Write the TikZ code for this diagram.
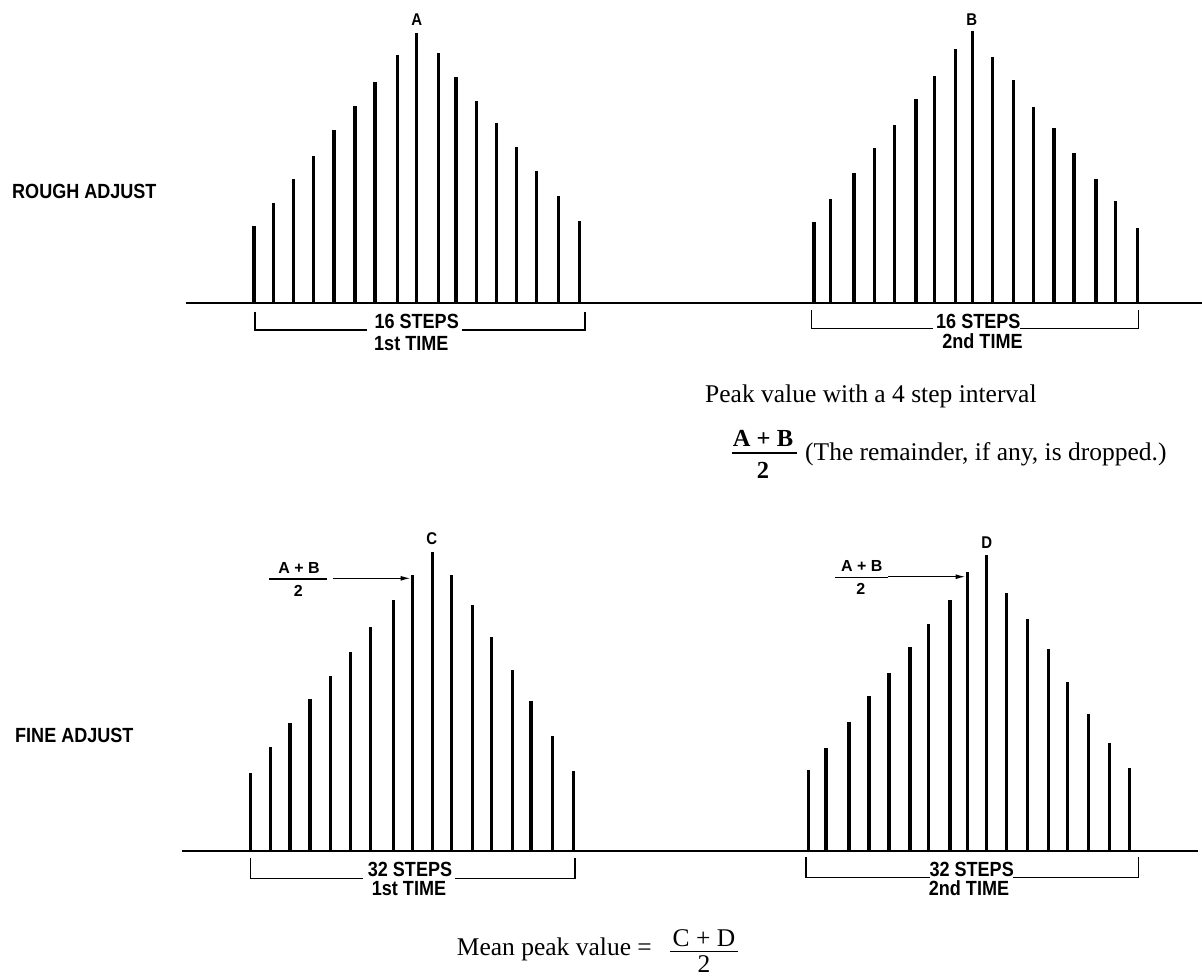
\documentclass[tikz,border=0pt]{standalone}
\usepackage{fontspec}
\setmainfont{Liberation Serif}
\setsansfont{Liberation Sans}
\newfontfamily\letterfont[FakeStretch=0.88]{Liberation Sans}
\usetikzlibrary{arrows.meta}
\begin{document}
\begin{tikzpicture}[x=1pt,y=-1pt,
  bar/.style={line width=3.3pt},
  axisline/.style={line width=2pt},
  brk/.style={line width=1.5pt},
  lbl/.style={font=\letterfont\bfseries\fontsize{20.5}{20.5}\selectfont, inner sep=0pt, anchor=base},
  side/.style={font=\letterfont\bfseries\fontsize{20.5}{20.5}\selectfont, inner sep=0pt, anchor=base west},
  peak/.style={font=\letterfont\bfseries\fontsize{17}{17}\selectfont, inner sep=0pt},
  fr/.style={font=\sffamily\bfseries\fontsize{16}{16}\selectfont, inner sep=0pt, anchor=base},
  serif/.style={font=\rmfamily\fontsize{25.5}{25.5}\selectfont, inner sep=0pt},
  ptr/.style={line width=1.3pt, -{Latex[length=10pt,width=5pt]}}
]
\useasboundingbox (0,0) rectangle (1202,977);

% ---------- side labels
\node[side] (rough) at (12,198) {ROUGH ADJUST};
\node[side] (fine) at (15,742) {FINE ADJUST};

% ---------- baselines
\coordinate (t0) at (186,303);
\coordinate (t1) at (1202,303);
\coordinate (u0) at (182,851);
\coordinate (u1) at (1198,851);
\draw[axisline] (t0) -- (t1);
\draw[axisline] (u0) -- (u1);

% ---------- rough adjust, 1st time
\foreach \x/\t in {254/226, 273.3/203.3, 293.3/179.3, 313.3/155.7, 334/130, 355/106,
  375/81.7, 397.3/55, 416.7/32.7, 438.3/52.7, 456/76.7, 476.7/100.7, 496.7/123.3,
  516.7/146.7, 536.7/171, 558.3/195.7, 579.3/220.7}
  \draw[bar] (\x,303) -- (\x,\t);
\node[peak] (A) at (416.7,20) {A};
\node[lbl] (s1) at (416.7,328) {16 STEPS};
\node[lbl] (n1) at (411.3,350) {1st TIME};
\draw[brk] (255,311.7) -- (255,330) -- (366.7,330);
\draw[brk] (461.7,330) -- (585,330) -- (585,311.7);

% ---------- rough adjust, 2nd time
\foreach \x/\t in {814/221.7, 830.7/199, 854/172.7, 874.7/147.7, 894.3/125, 916/99,
  934.3/76, 955.3/49.3, 972.3/31, 992.7/57.3, 1013.3/80, 1033.3/107.3, 1054/128.3,
  1074/153.3, 1096/179, 1115.3/201, 1137.3/227.7}
  \draw[bar] (\x,303) -- (\x,\t);
\node[peak] (B) at (971.7,20) {B};
\node[lbl] (s2) at (978.3,328.3) {16 STEPS};
\node[lbl] (n2) at (982.5,348) {2nd TIME};
\draw[brk] (811.7,310) -- (811.7,328.3) -- (933.3,328.3);
\draw[brk] (1020,328.3) -- (1138.3,328.3) -- (1138.3,310);

% ---------- middle text
\node[serif, anchor=base west] (pv) at (705,402) {Peak value with a 4 step interval};
\node[serif, anchor=base, font=\rmfamily\bfseries\fontsize{24.5}{24.5}\selectfont] (abn) at (763,446.7) {A + B};
\node[serif, anchor=base, font=\rmfamily\bfseries\fontsize{24.5}{24.5}\selectfont] (abd) at (763,478) {2};
\draw[line width=1.1pt] (731.7,453) -- (796.7,453);
\node[serif, anchor=base west] (rem) at (805,460) {(The remainder, if any, is dropped.)};

% ---------- fine adjust, 1st time
\foreach \x/\t in {250.7/773.3, 270.7/747.3, 290/723.3, 310/699.3, 330.7/676, 350.7/651.7,
  370.7/626.7, 393.3/600, 412.3/575, 432.7/551.7, 451.7/575, 472.7/605, 491.7/636.7,
  512.7/670, 531/701, 552.7/736, 573.3/770.7}
  \draw[bar] (\x,851) -- (\x,\t);
\node[peak] (C) at (431.7,539) {C};
\node[fr] (f1n) at (299,573.3) {A + B};
\node[fr] (f1d) at (298.3,596.7) {2};
\draw[line width=1.3pt] (269.3,579) -- (326.7,579);
\coordinate (a1s) at (333.3,578.3);
\coordinate (a1e) at (410.5,578.3);
\draw[ptr] (a1s) -- (a1e);
\node[lbl] (s3) at (410,876.7) {32 STEPS};
\node[lbl] (n3) at (409,895) {1st TIME};
\draw[brk] (250.7,858.3) -- (250.7,878.3) -- (363.3,878.3);
\draw[brk] (455,878.3) -- (575,878.3) -- (575,858.3);

% ---------- fine adjust, 2nd time
\foreach \x/\t in {808.3/770, 826/747.7, 849/721.7, 869/696, 889/673.3, 910/647.3,
  928.7/624, 950/600, 967.3/571.7, 986.7/555, 1006.7/592.7, 1027.3/619.3, 1048.3/649,
  1067.7/681.7, 1088.3/714, 1109.3/743.3, 1129.3/768.3}
  \draw[bar] (\x,851) -- (\x,\t);
\node[peak] (D) at (986.7,543) {D};
\node[fr] (f2n) at (861.7,571.7) {A + B};
\node[fr] (f2d) at (860.7,594) {2};
\draw[line width=1.3pt] (835,577.3) -- (888.3,577.3);
\coordinate (a2s) at (888.3,576.7);
\coordinate (a2e) at (965.5,576.7);
\draw[ptr] (a2s) -- (a2e);
\node[lbl] (s4) at (971.7,876) {32 STEPS};
\node[lbl] (n4) at (969,895) {2nd TIME};
\draw[brk] (806,856.7) -- (806,877.3) -- (930,877.3);
\draw[brk] (1013.3,877.3) -- (1138.3,877.3) -- (1138.3,856.7);

% ---------- mean
\node[serif, anchor=base east] (mean) at (652,955) {Mean peak value =};
\node[serif, anchor=base] (cdn) at (704,946.7) {C + D};
\node[serif, anchor=base] (cdd) at (704,972.5) {2};
\draw[line width=1.1pt] (670,951.7) -- (738,951.7);
\end{tikzpicture}
\end{document}
